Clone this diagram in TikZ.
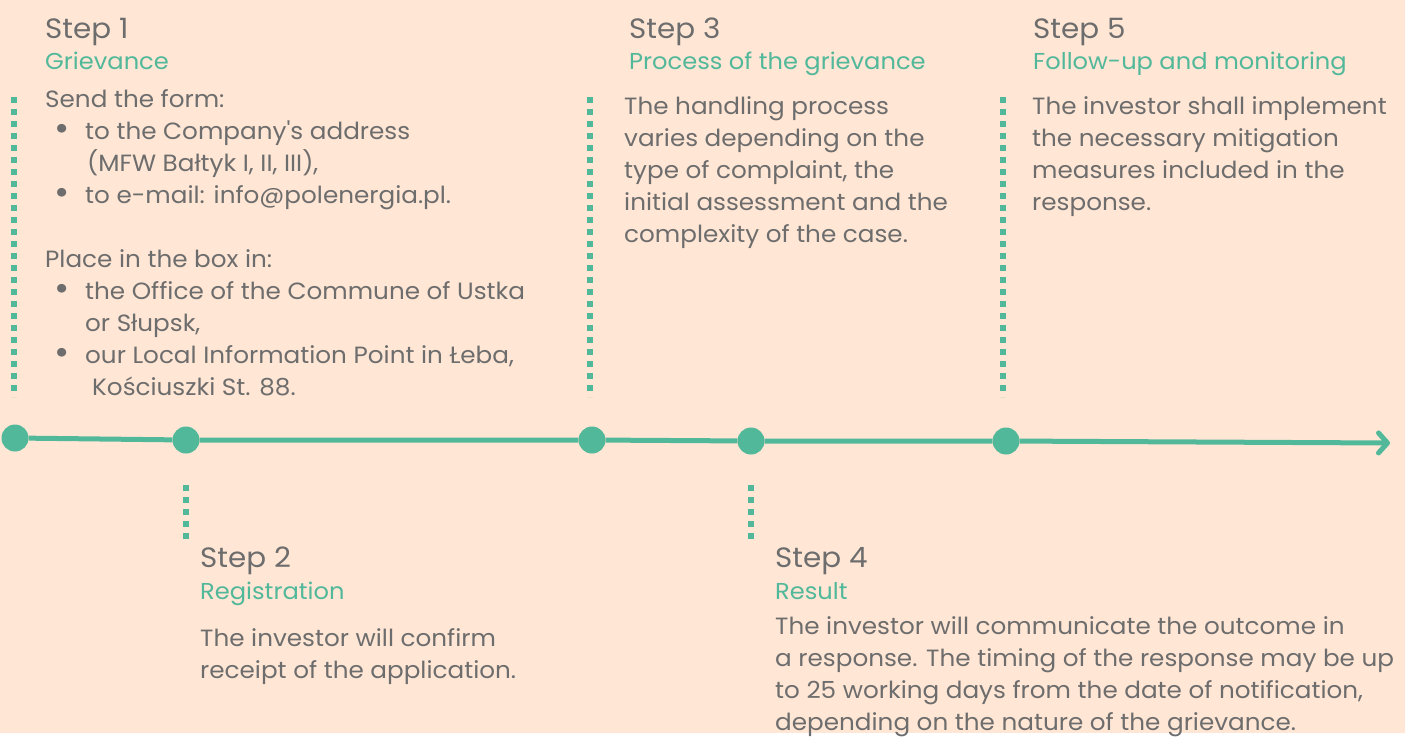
\documentclass[tikz,border=0pt]{standalone}
\usepackage{fontspec}
\defaultfontfeatures[\rmfamily]{}
\setmainfont{Poppins}[FakeStretch=1.05]
\usetikzlibrary{arrows.meta}
\definecolor{bg}{HTML}{FFE6D5}
\definecolor{grn}{HTML}{52B89A}
\definecolor{txt}{HTML}{6D6D6D}
\newcommand{\bul}{\makebox[40pt][l]{\hspace*{9pt}\raisebox{-1.5pt}{\scalebox{1.5}{\textbullet}}}}
\begin{document}
\begin{tikzpicture}[x=1pt,y=-1pt,
  title/.style={anchor=base west,inner sep=0pt,text=txt,font=\fontsize{28}{32}\selectfont},
  subtitle/.style={anchor=base west,inner sep=0pt,text=grn,font=\fontsize{23}{28}\selectfont},
  body/.style={anchor=north west,inner sep=0pt,text=txt,align=left,font=\fontsize{23.5}{32}\selectfont},
  dots/.style={draw=grn,line width=6pt,dash pattern=on 6pt off 6pt},
  dotc/.style={circle,fill=grn,minimum size=27pt,inner sep=0pt},
  tline/.style={draw=grn,line width=5pt}
]
\fill[bg] (0,0) rectangle (1405,733);
% timeline
\node[dotc] (c1) at (15,438) {};
\node[dotc] (c2) at (186,440) {};
\node[dotc] (c3) at (592,440) {};
\node[dotc] (c4) at (751,441) {};
\node[dotc] (c5) at (1006,441) {};
\coordinate (tend) at (1390,443);
\draw[tline] (c1) -- (c2) -- (c3) -- (c4) -- (c5);
\draw[tline,-{Straight Barb[length=9pt,width=20pt,round]}] (c5) -- (tend);
% dotted connectors
\coordinate (d1a) at (14,97); \coordinate (d1b) at (14,397);
\coordinate (d3a) at (590,97); \coordinate (d3b) at (590,397);
\coordinate (d5a) at (1003,97); \coordinate (d5b) at (1003,397);
\coordinate (d2a) at (186,485); \coordinate (d2b) at (186,542);
\coordinate (d4a) at (751,485); \coordinate (d4b) at (751,542);
\draw[dots] (d1a) -- (d1b);
\draw[dots] (d3a) -- (d3b);
\draw[dots] (d5a) -- (d5b);
\draw[dots] (d2a) -- (d2b);
\draw[dots] (d4a) -- (d4b);
% Step 1
\node[title] (t1) at (45,38) {Step 1};
\node[subtitle] (s1) at (45,69) {Grievance};
\node[body] (b1) at (45,89) {Send the form:\\
\bul to the Company's address\\
\hspace*{42pt}(MFW Bałtyk I, II, III),\\
\bul to e-mail: info@polenergia.pl.\\[32pt]
Place in the box in:\\
\bul the Office of the Commune of Ustka\\
\hspace*{40pt}or Słupsk,\\
\bul our Local Information Point in Łeba,\\
\hspace*{47pt}Kościuszki St. 88.};
% Step 2
\node[title] (t2) at (200,567) {Step 2};
\node[subtitle] (s2) at (200,599) {Registration};
\node[body] (b2) at (200,628) {The investor will confirm\\receipt of the application.};
% Step 3
\node[title] (t3) at (629,38) {Step 3};
\node[subtitle] (s3) at (629,69) {Process of the grievance};
\node[body] (b3) at (624,96) {The handling process\\varies depending on the\\type of complaint, the\\initial assessment and the\\complexity of the case.};
% Step 4
\node[title] (t4) at (775,567) {Step 4};
\node[subtitle] (s4) at (775,599) {Result};
\node[body] (b4) at (775,616) {The investor will communicate the outcome in\\a response. The timing of the response may be up\\to 25 working days from the date of notification,\\depending on the nature of the grievance.};
% Step 5
\node[title] (t5) at (1033,38) {Step 5};
\node[subtitle] (s5) at (1033,69) {Follow-up and monitoring};
\node[body] (b5) at (1032,96) {The investor shall implement\\the necessary mitigation\\measures included in the\\response.};
\end{tikzpicture}
\end{document}
